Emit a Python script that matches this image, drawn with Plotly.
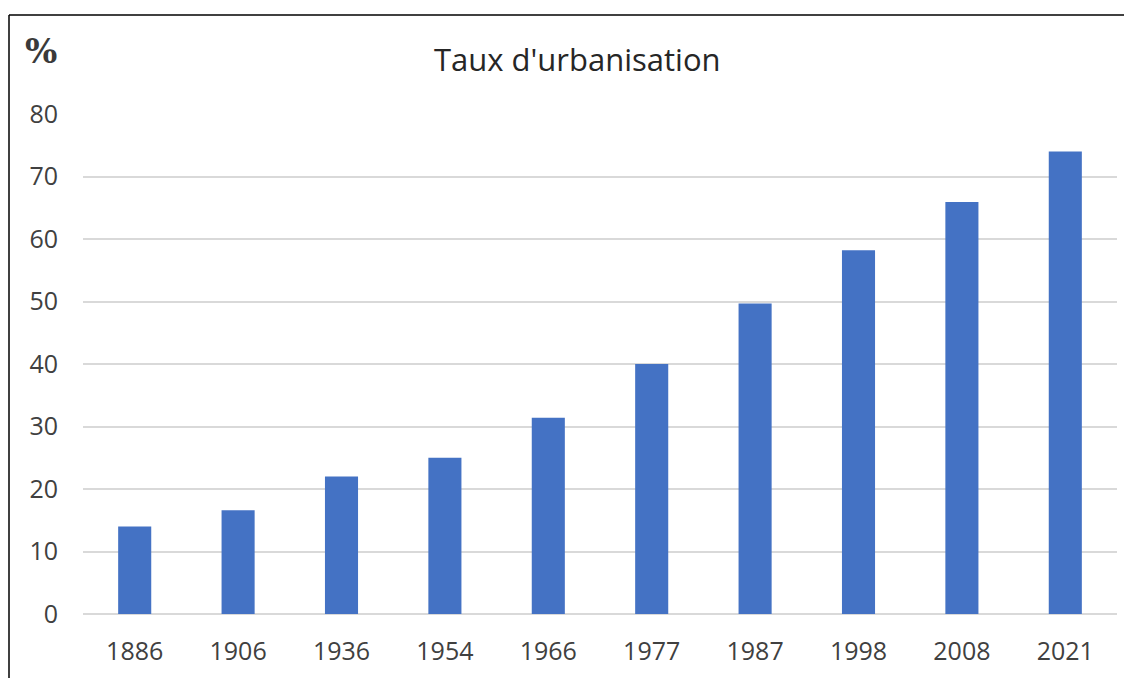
import plotly.graph_objects as go

years = ["1886", "1906", "1936", "1954", "1966", "1977", "1987", "1998", "2008", "2021"]
taux = [14.0, 16.6, 22.0, 25.0, 31.4, 40.0, 49.7, 58.2, 65.9, 74.0]
y_ticks = [0, 10, 20, 30, 40, 50, 60, 70, 80]

# page body has an 8px margin; work in reference pixel coords and shift
OFF = 8
W, H = 1132 - OFF, 678 - OFF
L, R, T, B = 83 - OFF, 15, 114 - OFF, 64
pw, ph = W - L - R, H - T - B

def px(x):
    return (x - OFF - L) / pw

def py(y_from_top):
    return (H - (y_from_top - OFF) - B) / ph

fig = go.Figure(go.Bar(x=years, y=taux, marker=dict(color="#4472C4", line=dict(width=0)),
                       hoverinfo="x+y"))

fig.update_layout(
    width=W, height=H,
    margin=dict(l=L, r=R, t=T, b=B),
    paper_bgcolor="white", plot_bgcolor="white",
    bargap=0.68,
    showlegend=False,
    font=dict(family="Open Sans, Liberation Sans, sans-serif", color="#404040"),
    xaxis=dict(type="category", showgrid=False, showline=False, ticks="",
               tickfont=dict(size=25, color="#404040"), ticklabelstandoff=20),
    yaxis=dict(range=[0, 80], tickvals=y_ticks, showgrid=True, gridcolor="#D9D9D9",
               gridwidth=1.5, zeroline=True, zerolinecolor="#D9D9D9", zerolinewidth=1.5,
               showline=False, ticks="", tickfont=dict(size=25, color="#404040"),
               ticklabelstandoff=24),
    shapes=[
        dict(type="line", xref="paper", yref="paper", x0=px(9), x1=px(1140), y0=py(15), y1=py(15),
             line=dict(color="black", width=1.5)),
        dict(type="line", xref="paper", yref="paper", x0=px(9), x1=px(9), y0=py(15), y1=py(690),
             line=dict(color="black", width=1.5)),
    ],
    annotations=[
        dict(text="Taux d'urbanisation", xref="paper", yref="paper", x=px(577), y=py(59),
             xanchor="center", yanchor="middle", showarrow=False,
             font=dict(size=31, color="#262626", family="Open Sans, sans-serif")),
        dict(text="<b>%</b>", xref="paper", yref="paper", x=px(41), y=py(51),
             xanchor="center", yanchor="middle", showarrow=False,
             font=dict(size=34, color="#3a3a3a", family="DejaVu Serif, Liberation Serif, serif")),
    ],
)

fig.write_html("out.html")
